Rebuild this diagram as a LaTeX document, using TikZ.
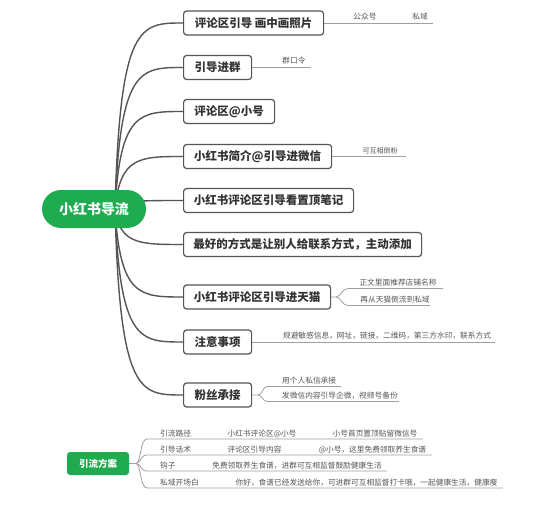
\documentclass[tikz,border=0pt]{standalone}
\usepackage{fontspec}
\setmainfont{Noto Sans CJK SC}
\usetikzlibrary{backgrounds}
\definecolor{xgreen}{HTML}{1FAB4F}
\definecolor{boxline}{HTML}{555555}
\definecolor{boxtext}{HTML}{333333}
\definecolor{leafcol}{HTML}{A0A0A0}
\definecolor{leaftxt}{HTML}{555555}
\begin{document}
\begin{tikzpicture}[x=1pt,y=-1pt,
  rootnode/.style={fill=xgreen, rounded corners=19pt, minimum width=104pt, minimum height=38pt, text=white, font=\fontsize{14}{16}\selectfont\bfseries, inner sep=0pt},
  subroot/.style={fill=xgreen, rounded corners=3pt, minimum width=62pt, minimum height=23pt, text=white, font=\fontsize{9.5}{11}\selectfont\bfseries, inner sep=0pt},
  box/.style={draw=boxline, line width=1.2pt, rounded corners=3pt, fill=white, minimum height=24pt, anchor=west, font=\fontsize{11.5}{13}\selectfont\bfseries, text=boxtext, inner sep=0pt},
  mainline/.style={draw=boxline, line width=1.4pt},
  leafline/.style={draw=leafcol, line width=0.8pt},
  leaf/.style={font=\fontsize{7.7}{9}\selectfont, text=leaftxt, inner sep=0pt, anchor=base},
  leafw/.style={leaf, anchor=base west}]
\useasboundingbox (0,0) rectangle (560,511);

% root and main branches
\node[rootnode] (root) at (94,209) {小红书导流};
\coordinate (S) at (115,209);
\node[box, minimum width=140pt] (b1) at (183,23) {评论区引导 画中画照片};
\node[box, minimum width=68pt] (b2) at (183,67.5) {引导进群};
\node[box, minimum width=91pt] (b3) at (183,111.5) {评论区@小号};
\node[box, minimum width=148pt] (b4) at (183,156.5) {小红书简介@引导进微信};
\node[box, minimum width=170pt] (b5) at (183,200.5) {小红书评论区引导看置顶笔记};
\node[box, minimum width=238pt] (b6) at (183,244.5) {最好的方式是让别人给联系方式，主动添加};
\node[box, minimum width=147pt] (b7) at (183,297) {小红书评论区引导进天猫};
\node[box, minimum width=68pt] (b8) at (183,342) {注意事项};
\node[box, minimum width=68pt] (b9) at (183,395) {粉丝承接};

\begin{pgfonlayer}{background}
\foreach \b/\yy in {b1/23,b2/67.5,b3/111.5,b4/156.5,b5/200.5,b6/244.5,b7/297,b8/342,b9/395}
  \draw[mainline] (S) .. controls (120,\yy) and (140,\yy) .. (\b.west);
\end{pgfonlayer}

% leaves of b1
\coordinate (e1) at (433,23);
\draw[leafline] (b1.east) -- (e1);
\node[leaf] (l1a) at (365,19.5) {公众号};
\node[leaf] (l1b) at (420,19.5) {私域};

% leaves of b2
\coordinate (e2) at (311,67.5);
\draw[leafline] (b2.east) -- (e2);
\node[leaf] (l2) at (294,64) {群口令};

% leaves of b4
\coordinate (e4) at (406,156.5);
\draw[leafline] (b4.east) -- (e4);
\node[leaf, font=\fontsize{7}{8}\selectfont] (l4) at (380,153) {可互相倒粉};

% leaves of b7
\coordinate (f7) at (336,297);
\coordinate (s7a) at (348,288.5);
\coordinate (e7a) at (443,288.5);
\coordinate (s7b) at (348,305.5);
\coordinate (e7b) at (430,305.5);
\draw[leafline] (b7.east) -- (f7) .. controls (341,297) and (342,288.5) .. (s7a) -- (e7a);
\draw[leafline] (f7) .. controls (341,297) and (342,305.5) .. (s7b) -- (e7b);
\node[leaf] (l7a) at (398,285) {正文里面推荐店铺名称};
\node[leaf] (l7b) at (395,302) {再从天猫倒流到私域};

% leaves of b8
\coordinate (e8) at (495,342);
\draw[leafline] (b8.east) -- (e8);
\node[leaf] (l8) at (387,338.5) {规避敏感信息，网址，链接，二维码，第三方水印，联系方式};

% leaves of b9
\coordinate (f9) at (258,395);
\coordinate (s9a) at (267,386.5);
\coordinate (e9a) at (341,386.5);
\coordinate (s9b) at (267,401.5);
\coordinate (e9b) at (399,401.5);
\draw[leafline] (b9.east) -- (f9) .. controls (262,395) and (263,386.5) .. (s9a) -- (e9a);
\draw[leafline] (f9) .. controls (262,395) and (263,401.5) .. (s9b) -- (e9b);
\node[leafw] (l9a) at (282,383) {用个人私信承接};
\node[leafw] (l9b) at (282,398) {发微信内容引导企微，视频号备份};

% bottom section
\node[subroot] (g) at (98,463.5) {引流方案};
\coordinate (fg) at (136,463.5);
\draw[leafline] (g.east) -- (fg);
\foreach \yy/\xe in {439/423,455/432,471/387,488/503}{
  \draw[leafline] (fg) .. controls (141,463.5) and (140,\yy) .. (147,\yy) -- (\xe,\yy);
}
\node[leafw] (r1a) at (160,436) {引流路径};
\node[leaf] (r1b) at (262,436) {小红书评论区@小号};
\node[leaf] (r1c) at (375,436) {小号首页置顶贴留微信号};
\node[leafw] (r2a) at (160,452) {引导话术};
\node[leaf] (r2b) at (254.5,452) {评论区引导内容};
\node[leaf] (r2c) at (372.5,452) {@小号，这里免费领取养生食谱};
\node[leafw] (r3a) at (160,468) {钩子};
\node[leaf] (r3b) at (297,468) {免费领取养生食谱，进群可互相监督鼓励健康生活};
\node[leafw] (r4a) at (160,485) {私域开场白};
\node[leaf] (r4b) at (366.5,485) {你好，食谱已经发送给你，可进群可互相监督打卡哦，一起健康生活，健康瘦};
\end{tikzpicture}
\end{document}
